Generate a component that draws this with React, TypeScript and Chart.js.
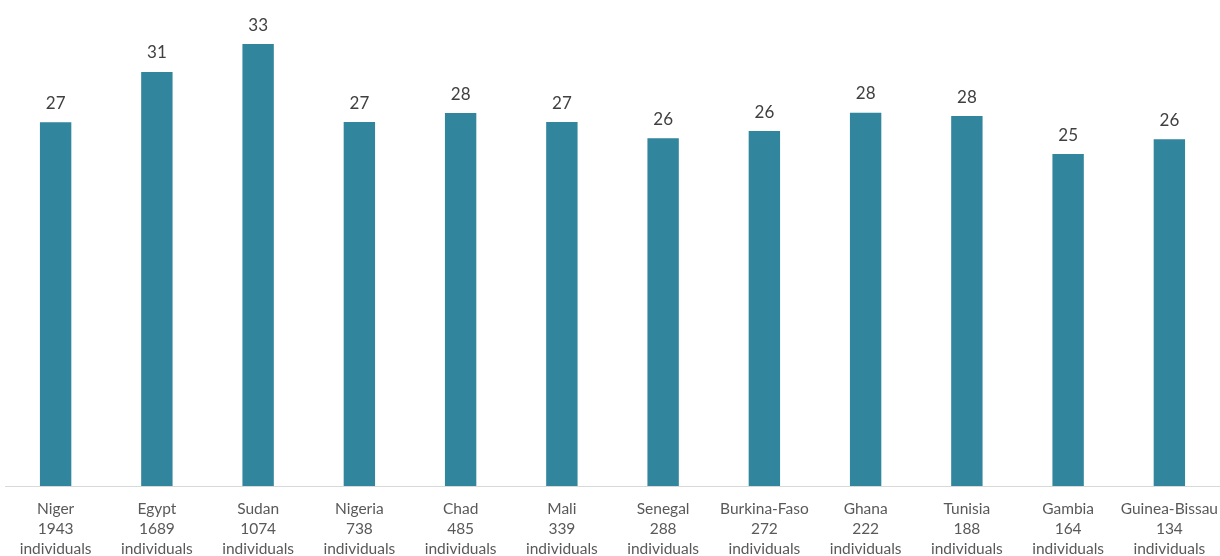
import React, { useEffect, useRef } from "react";
import { Chart, registerables } from "chart.js";

Chart.register(...registerables);

const countries = ["Niger", "Egypt", "Sudan", "Nigeria", "Chad", "Mali", "Senegal", "Burkina-Faso", "Ghana", "Tunisia", "Gambia", "Guinea-Bissau"];
const individuals = [1943, 1689, 1074, 738, 485, 339, 288, 272, 222, 188, 164, 134];
const values = [27.08, 30.83, 32.91, 27.1, 27.77, 27.1, 25.89, 26.43, 27.8, 27.55, 24.72, 25.82];
const yMax = 35;

const FONT = "Lato, 'Open Sans', sans-serif";

const valueLabels = {
  id: "valueLabels",
  afterDatasetsDraw(chart: any) {
    const ctx = chart.ctx;
    const meta = chart.getDatasetMeta(0);
    ctx.save();
    ctx.font = `17px ${FONT}`;
    ctx.fillStyle = "#404040";
    ctx.textAlign = "center";
    ctx.textBaseline = "middle";
    meta.data.forEach((bar: any, i: number) => {
      ctx.fillText(String(Math.round(values[i])), bar.x, bar.y - 19);
    });
    ctx.restore();
  },
};

export default function App() {
  const ref = useRef<HTMLCanvasElement>(null);
  useEffect(() => {
    document.body.style.margin = "0";
    const chart = new Chart(ref.current!, {
      type: "bar",
      data: {
        labels: countries.map((c, i) => [c, String(individuals[i]), "individuals"]),
        datasets: [
          {
            data: values,
            backgroundColor: "#31859C",
            barPercentage: 0.31,
            categoryPercentage: 1,
          },
        ],
      },
      options: {
        animation: false,
        responsive: false,
        maintainAspectRatio: false,
        layout: { padding: { top: 16, left: 5, right: 0, bottom: 0 } },
        plugins: { legend: { display: false }, tooltip: { enabled: false } },
        scales: {
          y: { display: false, min: 0, max: yMax },
          x: {
            grid: { display: false },
            border: { display: true, color: "#D9D9D9", width: 1 },
            ticks: {
              padding: 5,
              color: "#595959",
              font: { family: FONT, size: 15.5, lineHeight: 1.3 },
              maxRotation: 0,
              autoSkip: false,
            },
            afterFit(scale: any) {
              scale.height = 70;
              scale.paddingLeft = 0;
              scale.paddingRight = 0;
            },
          },
        },
      },
      plugins: [valueLabels],
    });
    return () => chart.destroy();
  }, []);
  return <canvas ref={ref} width={1220} height={556} style={{ display: "block" }} />;
}
